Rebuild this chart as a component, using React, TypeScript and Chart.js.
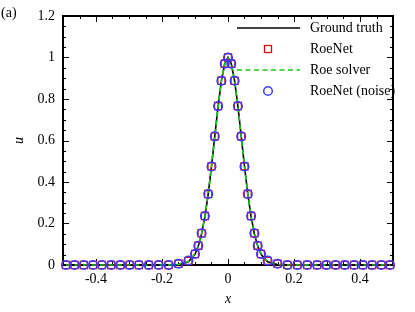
import React, { useEffect, useRef } from "react";
import { Chart, registerables } from "chart.js";

Chart.register(...registerables);

// ---- data ----
const xs = [
  -0.491, -0.465, -0.437, -0.409, -0.382, -0.354, -0.326, -0.298, -0.27, -0.24, -0.21, -0.18, -0.15, -0.12,
  -0.1, -0.09, -0.08, -0.07, -0.06, -0.05, -0.04, -0.03, -0.02, -0.01, 0, 0.01, 0.02, 0.03, 0.04, 0.05, 0.06,
  0.07, 0.08, 0.09, 0.1,
  0.12, 0.15, 0.18, 0.21, 0.24, 0.27, 0.298, 0.326, 0.354, 0.382, 0.409, 0.437, 0.465, 0.491,
];
const groundTruth = [
  0, 0, 0, 0, 0, 0, 0, 0, 0, 0, 0, 0, 0.002, 0.015,
  0.052, 0.091, 0.15, 0.233, 0.342, 0.476, 0.621, 0.766, 0.888, 0.97, 1.0, 0.97, 0.888, 0.766, 0.621, 0.476,
  0.342, 0.233, 0.15, 0.091, 0.052,
  0.015, 0.002, 0, 0, 0, 0, 0, 0, 0, 0, 0, 0, 0, 0,
];
const roeSolver = [
  0, 0, 0, 0, 0, 0, 0, 0, 0, 0, 0, 0, 0.003, 0.017,
  0.054, 0.093, 0.152, 0.235, 0.343, 0.476, 0.62, 0.764, 0.885, 0.967, 0.996, 0.967, 0.885, 0.764, 0.62, 0.476,
  0.343, 0.235, 0.152, 0.093, 0.054,
  0.017, 0.003, 0, 0, 0, 0, 0, 0, 0, 0, 0, 0, 0, 0,
];
const roeNet = [
  0, 0, 0, 0, 0, 0, 0, 0, 0, 0, 0, 0, 0.006, 0.02,
  0.053, 0.093, 0.153, 0.236, 0.342, 0.475, 0.62, 0.766, 0.888, 0.97, 1.0, 0.97, 0.888, 0.766, 0.62, 0.475,
  0.342, 0.236, 0.153, 0.093, 0.053,
  0.02, 0.006, 0, 0, 0, 0, 0, 0, 0, 0, 0, 0, 0, 0,
];
const roeNetNoise = [
  0, 0, 0, 0, 0, 0, 0, 0, 0, 0, 0, 0, 0.006, 0.021,
  0.053, 0.093, 0.153, 0.236, 0.342, 0.475, 0.62, 0.766, 0.888, 0.97, 1.0, 0.97, 0.888, 0.766, 0.62, 0.475,
  0.342, 0.236, 0.153, 0.093, 0.053,
  0.021, 0.006, 0, 0, 0, 0, 0, 0, 0, 0, 0, 0, 0, 0,
];

const xTicks = [-0.4, -0.2, 0, 0.2, 0.4];
const xTickLabels = ["-0.4", "-0.2", "0", "0.2", "0.4"];
const yTicks = [0, 0.2, 0.4, 0.6, 0.8, 1, 1.2];
const yTickLabels = ["0", "0.2", "0.4", "0.6", "0.8", "1", "1.2"];
const xMinorStep = 0.05;
const yMinorStep = 0.05;

const legendLabels = ["Ground truth", "RoeNet", "Roe solver", "RoeNet (noise)"];

const FONT = "'Liberation Serif', 'Times New Roman', serif";
const RED = "#d01010";
const BLUE = "#3a3aff";
const GREEN = "#18c818";

const toPts = (ys: number[]) => xs.map((x, i) => ({ x, y: ys[i] }));

const framePlugin = {
  id: "frame",
  beforeDatasetsDraw(chart: any) {
    const { ctx, chartArea: a, scales } = chart;
    const xs_ = scales.x;
    const ys_ = scales.y;
    ctx.save();
    ctx.strokeStyle = "#000";
    // ticks
    ctx.lineWidth = 1;
    const major = 6;
    const minor = 3;
    ctx.beginPath();
    for (let v = -0.5; v <= 0.5001; v += xMinorStep) {
      const isMajor = xTicks.some((t) => Math.abs(t - v) < 1e-6);
      const px = Math.round(xs_.getPixelForValue(v)) + 0.5;
      const len = isMajor ? major : minor;
      ctx.moveTo(px, a.bottom);
      ctx.lineTo(px, a.bottom - len);
      ctx.moveTo(px, a.top);
      ctx.lineTo(px, a.top + len);
    }
    for (let v = 0; v <= 1.2001; v += yMinorStep) {
      const isMajor = yTicks.some((t) => Math.abs(t - v) < 1e-6);
      const py = Math.round(ys_.getPixelForValue(v)) + 0.5;
      const len = isMajor ? major : minor;
      ctx.moveTo(a.left, py);
      ctx.lineTo(a.left + len, py);
      ctx.moveTo(a.right, py);
      ctx.lineTo(a.right - len, py);
    }
    ctx.stroke();
    // frame
    ctx.lineWidth = 2;
    ctx.strokeRect(a.left, a.top, a.right - a.left, a.bottom - a.top);
    ctx.restore();
  },
  afterDraw(chart: any) {
    const { ctx, chartArea: a, scales } = chart;
    const xs_ = scales.x;
    const ys_ = scales.y;
    ctx.save();
    ctx.fillStyle = "#000";
    ctx.font = `14px ${FONT}`;
    // x tick labels
    ctx.textAlign = "center";
    ctx.textBaseline = "top";
    xTicks.forEach((t, i) => {
      ctx.fillText(xTickLabels[i], xs_.getPixelForValue(t), a.bottom + 7);
    });
    // y tick labels
    ctx.textAlign = "right";
    ctx.textBaseline = "middle";
    yTicks.forEach((t, i) => {
      ctx.fillText(yTickLabels[i], a.left - 8, ys_.getPixelForValue(t));
    });
    // axis titles
    ctx.font = `italic 14px ${FONT}`;
    ctx.textAlign = "center";
    ctx.textBaseline = "middle";
    ctx.fillText("x", (a.left + a.right) / 2, a.bottom + 34);
    ctx.save();
    ctx.translate(19, (a.top + a.bottom) / 2);
    ctx.rotate(-Math.PI / 2);
    ctx.fillText("u", 0, 0);
    ctx.restore();
    // panel label
    ctx.font = `14px ${FONT}`;
    ctx.textAlign = "left";
    ctx.textBaseline = "middle";
    ctx.fillText("(a)", 1, 13);

    // legend
    const rowY = [28, 49, 70, 91];
    const lx0 = 237;
    const lx1 = 300;
    const mid = 268;
    const tx = 310;
    // ground truth
    ctx.strokeStyle = "#000";
    ctx.lineWidth = 1.6;
    ctx.beginPath();
    ctx.moveTo(lx0, rowY[0]);
    ctx.lineTo(lx1, rowY[0]);
    ctx.stroke();
    // RoeNet square
    ctx.strokeStyle = RED;
    ctx.lineWidth = 1.3;
    ctx.strokeRect(mid - 3.5, rowY[1] - 3.5, 7, 7);
    // Roe solver dashed
    ctx.strokeStyle = GREEN;
    ctx.lineWidth = 1.6;
    ctx.setLineDash([5, 3.5]);
    ctx.beginPath();
    ctx.moveTo(lx0, rowY[2]);
    ctx.lineTo(lx1, rowY[2]);
    ctx.stroke();
    ctx.setLineDash([]);
    // noise circle
    ctx.strokeStyle = BLUE;
    ctx.lineWidth = 1.5;
    ctx.beginPath();
    ctx.arc(mid, rowY[3], 4.3, 0, Math.PI * 2);
    ctx.stroke();
    // texts
    ctx.fillStyle = "#000";
    ctx.font = `14px ${FONT}`;
    ctx.textAlign = "left";
    ctx.textBaseline = "middle";
    legendLabels.forEach((l, i) => ctx.fillText(l, tx, rowY[i] + 0.5));
    ctx.restore();
  },
};

export default function App() {
  const ref = useRef<HTMLCanvasElement | null>(null);
  useEffect(() => {
    document.body.style.margin = "0";
    document.body.style.overflow = "hidden";
    const canvas = ref.current;
    if (!canvas) return;
    const chart = new Chart(canvas, {
      type: "scatter",
      data: {
        datasets: [
          {
            label: legendLabels[0],
            data: toPts(groundTruth),
            showLine: true,
            borderColor: "#000",
            borderWidth: 1.6,
            pointRadius: 0,
            tension: 0,
            order: 4,
            clip: false,
          } as any,
          {
            label: legendLabels[2],
            data: toPts(roeSolver),
            showLine: true,
            borderColor: GREEN,
            borderWidth: 1.6,
            borderDash: [5, 3.5],
            pointRadius: 0,
            tension: 0,
            order: 3,
            clip: false,
          },
          {
            label: legendLabels[1],
            data: toPts(roeNet),
            showLine: false,
            pointStyle: "rect",
            pointRadius: 5,
            borderColor: RED,
            backgroundColor: "rgba(0,0,0,0)",
            pointBorderWidth: 1.3,
            order: 2,
            clip: false,
          },
          {
            label: legendLabels[3],
            data: toPts(roeNetNoise),
            showLine: false,
            pointStyle: "circle",
            pointRadius: 4.3,
            borderColor: BLUE,
            backgroundColor: "rgba(0,0,0,0)",
            pointBorderWidth: 1.5,
            order: 1,
            clip: false,
          },
        ],
      },
      options: {
        animation: false,
        responsive: false,
        events: [],
        layout: { padding: { left: 63, right: 22, top: 16, bottom: 47 } },
        scales: {
          x: { type: "linear", min: -0.5, max: 0.5, display: false },
          y: { type: "linear", min: 0, max: 1.2, display: false },
        },
        plugins: {
          legend: { display: false },
          tooltip: { enabled: false },
        },
      },
      plugins: [framePlugin],
    });
    return () => chart.destroy();
  }, []);
  return <canvas ref={ref} width={415} height={312} style={{ display: "block" }} />;
}
